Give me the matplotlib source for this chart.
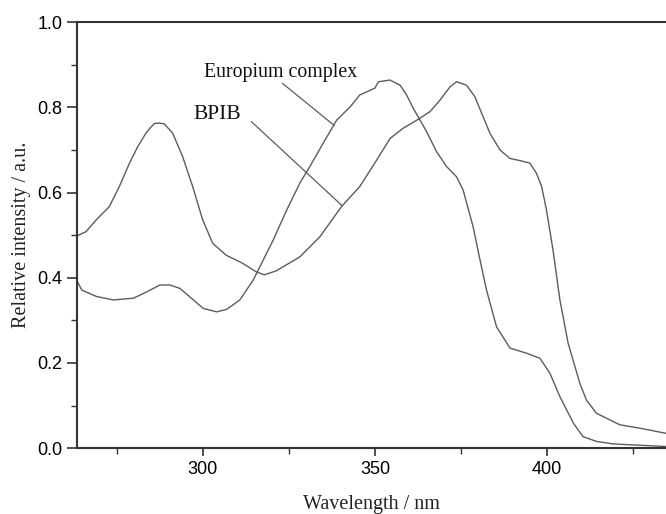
import matplotlib
matplotlib.use("Agg")
import matplotlib.pyplot as plt
from matplotlib.ticker import MultipleLocator

# BPIB spectrum
bpib_x = [263.4, 266.1, 269.0, 272.9, 275.8, 278.7, 281.1, 283.5, 284.8, 286.0, 287.4, 288.9,
          291.3, 294.2, 297.1, 300.0, 302.9, 306.8, 311.6, 315.5, 317.9, 321.3, 328.2, 334.0,
          340.3, 345.6, 350.5, 354.4, 358.2, 362.6, 366.0, 368.9, 371.8, 373.7, 376.6, 379.0,
          381.4, 383.4, 386.3, 389.2, 392.1, 395.0, 396.9, 398.4, 399.8, 401.7, 403.7, 406.1,
          409.5, 411.4, 414.3, 421.1, 426.9, 434.5]
bpib_y = [0.498, 0.508, 0.535, 0.567, 0.614, 0.668, 0.707, 0.739, 0.752, 0.762, 0.763, 0.761,
          0.739, 0.684, 0.614, 0.536, 0.481, 0.453, 0.434, 0.414, 0.407, 0.416, 0.449, 0.496,
          0.567, 0.614, 0.676, 0.727, 0.751, 0.772, 0.790, 0.817, 0.848, 0.860, 0.852, 0.825,
          0.778, 0.739, 0.700, 0.680, 0.675, 0.669, 0.645, 0.614, 0.559, 0.465, 0.348, 0.246,
          0.152, 0.113, 0.082, 0.055, 0.047, 0.035]

# Europium complex spectrum
eu_x = [263.4, 264.9, 269.2, 274.1, 279.9, 283.8, 287.6, 290.5, 293.4, 297.3, 300.2, 304.1,
        307.0, 310.8, 314.7, 317.6, 320.5, 324.4, 328.2, 331.1, 335.0, 338.9, 342.8, 345.6,
        350.0, 351.0, 354.4, 357.3, 359.2, 361.1, 363.1, 365.0, 367.9, 370.8, 373.7, 375.6,
        378.5, 380.5, 382.4, 385.3, 389.2, 394.0, 397.9, 400.8, 403.7, 407.6, 410.4, 414.3,
        419.2, 434.5]
eu_y = [0.395, 0.371, 0.356, 0.348, 0.352, 0.367, 0.383, 0.383, 0.375, 0.348, 0.328, 0.320,
        0.326, 0.348, 0.395, 0.442, 0.489, 0.559, 0.622, 0.661, 0.716, 0.770, 0.801, 0.829,
        0.845, 0.860, 0.864, 0.852, 0.829, 0.798, 0.770, 0.743, 0.696, 0.661, 0.637, 0.606,
        0.520, 0.442, 0.371, 0.285, 0.235, 0.223, 0.211, 0.176, 0.121, 0.059, 0.027, 0.016,
        0.010, 0.004]

x_ticks = [300, 350, 400]
y_ticks = [0.0, 0.2, 0.4, 0.6, 0.8, 1.0]

fig = plt.figure(figsize=(6.66, 5.14), dpi=100)
ax = fig.add_axes([0.115, 0.128, 0.885, 0.829])

line_color = "#5c5c5c"
ax.plot(bpib_x, bpib_y, color=line_color, lw=1.0)
ax.plot(eu_x, eu_y, color=line_color, lw=1.0)

ax.set_xlim(263.4, 434.5)
ax.set_ylim(0.0, 1.0)
ax.set_xticks(x_ticks)
ax.set_yticks(y_ticks)
ax.set_yticklabels([f"{v:.1f}" for v in y_ticks])
ax.xaxis.set_minor_locator(MultipleLocator(25))
ax.yaxis.set_minor_locator(MultipleLocator(0.1))

for s in ["left", "bottom", "top"]:
    ax.spines[s].set_linewidth(1.5)
    ax.spines[s].set_color("#333333")
ax.spines["right"].set_visible(False)

ax.tick_params(axis="both", which="major", direction="out", length=6, width=1.2,
               color="#333333", labelsize=13)
ax.tick_params(axis="both", which="minor", direction="out", length=4, width=1.0,
               color="#333333")
ax.tick_params(axis="y", which="major", length=7, pad=3)
for lab in ax.get_xticklabels() + ax.get_yticklabels():
    lab.set_family("Liberation Sans")

ax.set_xlabel("Wavelength / nm", family="Liberation Serif", fontsize=14.5, color="#222222",
              labelpad=12)
ax.set_ylabel("Relative intensity / a.u.", family="Liberation Serif", fontsize=14.5,
              color="#222222", labelpad=5)

# annotations
ax.text(322.7, 0.882, "Europium complex", family="Liberation Serif", fontsize=14.3,
        ha="center", va="center", color="#111111")
ax.plot([323.2, 338.1], [0.856, 0.758], color=line_color, lw=0.9)
ax.text(304.1, 0.782, "BPIB", family="Liberation Serif", fontsize=15.5,
        ha="center", va="center", color="#111111")
ax.plot([314.2, 340.5], [0.766, 0.569], color=line_color, lw=0.9)

fig.savefig("out.png", dpi=100)
